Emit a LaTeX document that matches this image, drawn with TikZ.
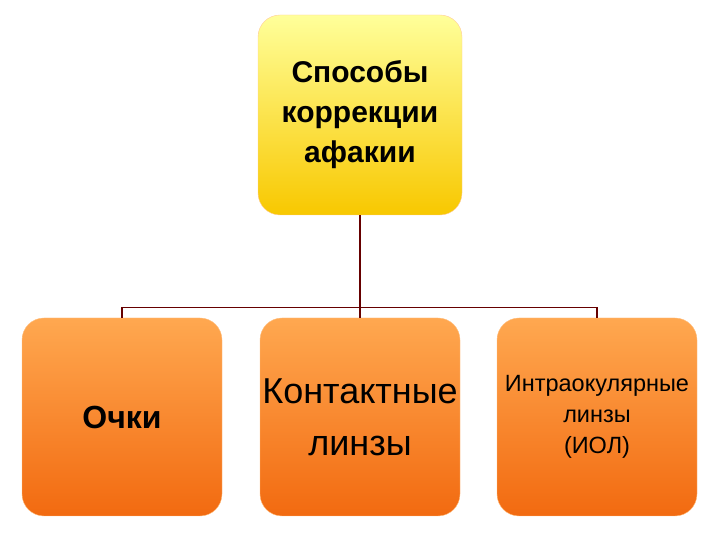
\documentclass[tikz,border=0pt]{standalone}
\usepackage{fontspec}
\setmainfont{Liberation Sans}
\definecolor{ytop}{HTML}{FFFF9A}
\definecolor{ybot}{HTML}{F8C800}
\definecolor{otop}{HTML}{FFA850}
\definecolor{obot}{HTML}{F26A10}
\begin{document}
\begin{tikzpicture}[x=1pt,y=1pt,
  topbox/.style={rounded corners=22pt,draw=orange!40,top color=ytop,bottom color=ybot,minimum width=204pt,minimum height=200pt,align=center},
  botbox/.style={rounded corners=22pt,draw=orange!50,top color=otop,bottom color=obot,minimum width=200pt,minimum height=198pt,align=center,inner sep=1pt},
  conn/.style={draw=red!40!black,line width=1.2pt}]
\useasboundingbox (0,0) rectangle (720,540);
\node[topbox,font=\fontsize{30}{40}\selectfont\bfseries] (t) at (360,425) {Способы\\коррекции\\афакии};
\node[botbox,font=\fontsize{32}{36}\selectfont\bfseries] (a) at (122,123) {Очки};
\node[botbox,font=\fontsize{36}{52}\selectfont] (b) at (360,123) {Контактные\\линзы};
\node[botbox,font=\fontsize{23.5}{31}\selectfont] (c) at (597,123) {Интраокулярные\\линзы\\(ИОЛ)};
\coordinate (m) at (360,232);
\draw[conn] (t.south) -- (m);
\draw[conn] (a.north) -- ++(0,10) -| (c.north);
\draw[conn] (b.north) -- ++(0,10);
\end{tikzpicture}
\end{document}
